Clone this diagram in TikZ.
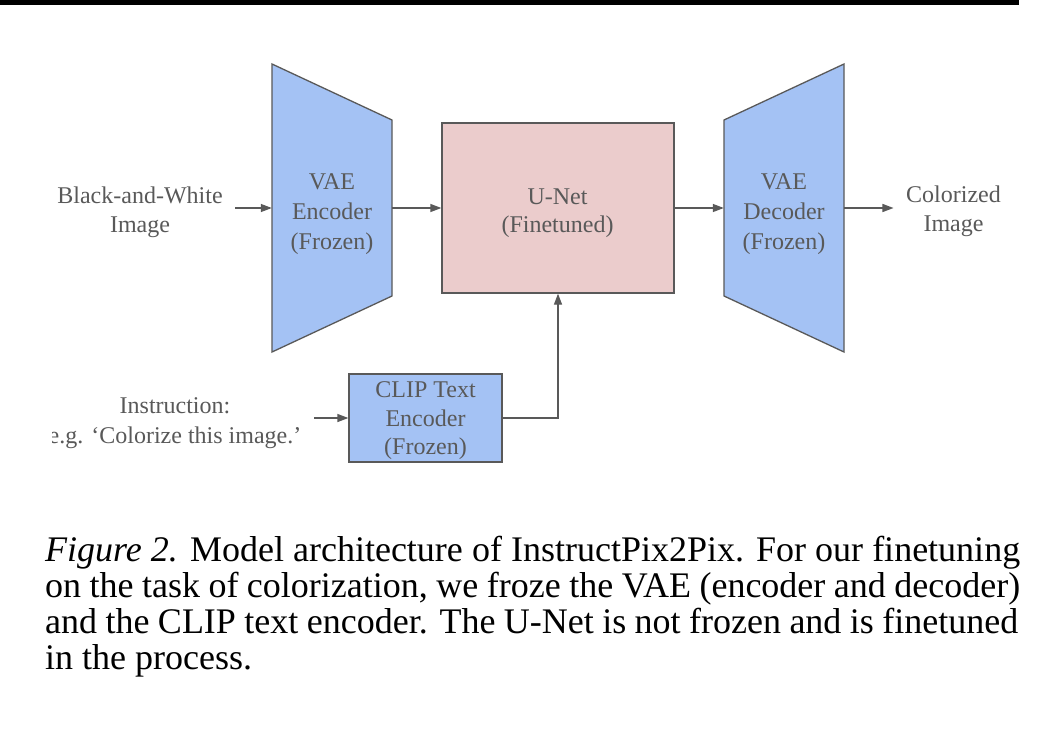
\documentclass[tikz,border=0pt]{standalone}
\usepackage{fontspec}
\setmainfont{Liberation Serif}
\usetikzlibrary{arrows.meta}
\definecolor{blueF}{HTML}{A4C2F4}
\definecolor{pinkF}{HTML}{EBCCCC}
\definecolor{edge}{HTML}{595959}
\definecolor{txt}{HTML}{595959}
\begin{document}
\begin{tikzpicture}[x=1pt,y=-1pt,
  lbl/.style={font=\fontsize{24}{29}\selectfont, text=txt, align=center, inner xsep=12.5pt, inner ysep=0pt},
  shapebox/.style={draw=edge, line width=1.3pt},
  arr/.style={draw=edge, line width=1.3pt, -{Triangle[length=11pt,width=8pt]}},
  ghost/.style={inner sep=0pt},
  boxtxt/.style={inner sep=0pt, text=txt, align=center},
  captxt/.style={inner sep=0pt, anchor=base west, font=\fontsize{36}{36}\selectfont}]
\useasboundingbox (0,0) rectangle (1064,749);
\fill[white] (0,0) rectangle (1064,749);
\fill[black] (0,0.5) rectangle (1019,5);

% VAE encoder / decoder shapes
\filldraw[shapebox, fill=blueF] (272,64) -- (392,120) -- (392,296) -- (272,352) -- cycle;
\filldraw[shapebox, fill=blueF] (724,120) -- (844,64) -- (844,352) -- (724,296) -- cycle;
\node[ghost, minimum width=120pt, minimum height=288pt] (enc) at (332,208) {};
\node[ghost, minimum width=120pt, minimum height=288pt] (dec) at (784,208) {};
\node[boxtxt, font=\fontsize{24}{30}\selectfont] (enctxt) at (332,214) {VAE\\Encoder\\(Frozen)};
\node[boxtxt, font=\fontsize{24}{30}\selectfont] (dectxt) at (784,214) {VAE\\Decoder\\(Frozen)};

% U-Net
\node[shapebox, fill=pinkF, minimum width=232pt, minimum height=170pt, inner sep=0pt] (unet) at (558,208) {};
\node[boxtxt, font=\fontsize{24}{28}\selectfont] (unettxt) at (557.5,213) {U-Net\\(Finetuned)};

% CLIP
\node[shapebox, fill=blueF, minimum width=153pt, minimum height=88pt, inner sep=0pt] (clip) at (425.5,418) {};
\node[boxtxt, font=\fontsize{24}{28.5}\selectfont] (cliptxt) at (425.5,421) {CLIP Text\\Encoder\\(Frozen)};

% labels
\node[lbl] (bw) at (140,212) {Black-and-White\\Image};
\node[lbl] (col) at (953.5,211.5) {Colorized\\Image};
\begin{scope}
\clip (52,380) rectangle (330,460);
\node[lbl, font=\fontsize{24}{30}\selectfont] (ins) at (175,423) {Instruction:\\e.g. ‘Colorize this image.’};
\end{scope}

% connectors
\draw[arr] (bw.east |- enc.west) -- (enc.west);
\draw[arr] (enc.east) -- (unet.west);
\draw[arr] (unet.east) -- (dec.west);
\draw[arr] (dec.east) -- (col.west |- dec.east);
\draw[arr] (ins.east |- clip.west) -- (clip.west);
\draw[arr] (clip.east) -| (unet.south);

% caption
\node[captxt] (c1) at (45,561) {\makebox[975pt][s]{\textit{Figure 2.} Model architecture of InstructPix2Pix. For our finetuning}};
\node[captxt] (c2) at (45,597) {\makebox[975pt][s]{on the task of colorization, we froze the VAE (encoder and decoder)}};
\node[captxt] (c3) at (45,633) {\makebox[973pt][s]{and the CLIP text encoder. The U-Net is not frozen and is finetuned}};
\node[captxt] (c4) at (45,669) {in the process.};
\end{tikzpicture}
\end{document}
